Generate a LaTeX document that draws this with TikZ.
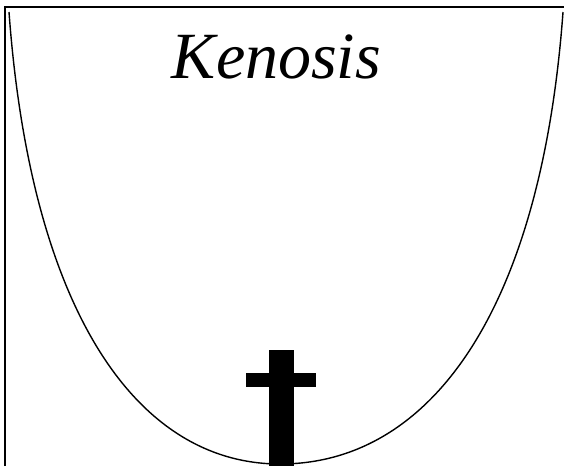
\documentclass[tikz,border=0pt]{standalone}
\usepackage{fontspec}
\setmainfont{Liberation Serif}
\usepackage{tikz}
\definecolor{tinta}{RGB}{0,0,0}

\begin{document}
\begin{tikzpicture}[x=1pt, y=-1pt,
    marco/.style={draw=tinta, line width=2.5pt},
    copa/.style={draw=tinta, line width=1.4pt},
    titulo/.style={font=\fontsize{66}{70}\selectfont\itshape, text=tinta, inner sep=0pt, anchor=base}]
        \useasboundingbox (0,0) rectangle (564,466);
        \draw[marco] (5,466) -- (5,7) -- (564,7);
        \draw[copa] (9,12) .. controls (31,312) and (137,464) .. (280,464)
                           .. controls (430,464) and (541,312) .. (563,12);
        \node[titulo] (titulo) at (276.5,78) {Kenosis};
        \fill[tinta] (269,350) rectangle (294,466);
        \fill[tinta] (246,373) rectangle (316,387);
      \end{tikzpicture}
\end{document}
